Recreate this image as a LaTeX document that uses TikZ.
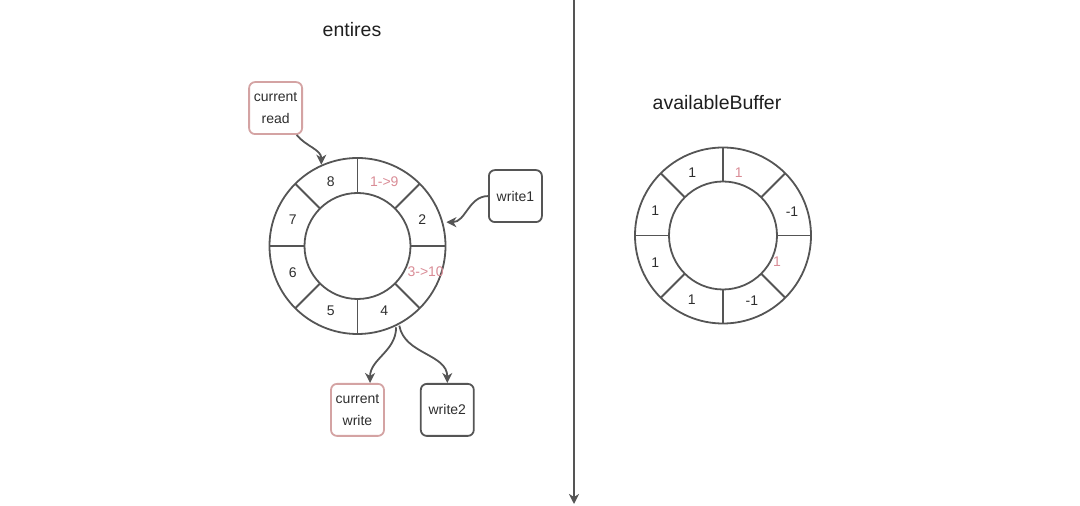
\documentclass[tikz,border=0pt]{standalone}
\usepackage{fontspec}
\setmainfont{Liberation Sans}
\usetikzlibrary{arrows.meta,positioning}
\definecolor{ringgray}{HTML}{555555}
\definecolor{pinkline}{HTML}{D4A3A3}
\definecolor{pinktext}{HTML}{D98C96}
\definecolor{textgray}{HTML}{2E2E2E}

\tikzset{
  box/.style={draw=ringgray, rounded corners=6pt, line width=1.8pt,
    minimum width=53pt, minimum height=52pt, inner sep=0pt, align=center,
    font=\fontsize{14}{22}\selectfont, text=textgray},
  redbox/.style={box, draw=pinkline},
  num/.style={font=\fontsize{14}{16}\selectfont, text=textgray},
  rednum/.style={num, text=pinktext},
  title/.style={font=\fontsize{19.5}{24}\selectfont, text=black!88}
}

\begin{document}
\begin{tikzpicture}[x=1pt, y=1pt, line width=1.8pt, color=ringgray,
    >={Stealth[length=10pt,width=10pt,inset=3pt]}]
  \useasboundingbox (0,0) rectangle (1080,506);
  % entires ring
  \coordinate (E) at (357.5,260);
  \node[title] (T1) at (352,476) {entires};
  \draw (E) circle (88pt) (E) circle (53pt);
  \foreach \a in {0,45,...,315}
    \draw (E) ++(\a:53pt) -- ++(\a:35pt);
  \path (E) ++(112.5:70pt) node[num] (e8) {8};
  \path (E) ++(67.5:70pt) node[rednum] (e1) {1->9};
  \path (E) ++(22.5:70pt) node[num] (e2) {2};
  \path (E) ++(-21:73pt) node[rednum] (e3) {3->10};
  \path (E) ++(-67.5:70pt) node[num] (e4) {4};
  \path (E) ++(-112.5:70pt) node[num] (e5) {5};
  \path (E) ++(-157.5:70pt) node[num] (e6) {6};
  \path (E) ++(157.5:70pt) node[num] (e7) {7};
  % pointers
  \node[redbox, above left=111pt and 54.5pt of E] (R) {current\\read};
  \node[box, above right=23pt and 130.5pt of E] (W1) {write1};
  \node[redbox, below=137pt of E] (CW) {current\\write};
  \node[box, right=35pt of CW] (W2) {write2};
  \path (E) ++(114:89pt) coordinate (in8);
  \path (E) ++(15:92pt) coordinate (in2);
  \path (E) ++(-64.6:90pt) coordinate (out4a);
  \path (E) ++(-62.3:90pt) coordinate (out4b);
  \draw[->] (R.-52) to[out=-50,in=90] (in8);
  \draw[->] (W1.west) to[out=180,in=0] (in2);
  \draw[->] (out4a) to[out=-90,in=90] (CW.65);
  \draw[->] (out4b) to[out=-80,in=90] (W2.north);
  % divider
  \coordinate (top) at (574,506);
  \coordinate (bot) at (574,2);
  \draw[->] (top) -- (bot);
  % availableBuffer ring
  \coordinate (B) at (723,270.5);
  \node[title] (T2) at (717,403) {availableBuffer};
  \draw (B) circle (88pt) (B) circle (54pt);
  \foreach \a in {0,45,...,315}
    \draw (B) ++(\a:54pt) -- ++(\a:34pt);
  \path (B) ++(116:70pt) node[num] (b8) {1};
  \path (B) ++(76:65pt) node[rednum] (b1) {1};
  \path (B) ++(19:73pt) node[num] (b2) {-1};
  \path (B) ++(-26:60pt) node[rednum] (b3) {1};
  \path (B) ++(-66:71pt) node[num] (b4) {-1};
  \path (B) ++(-116:71pt) node[num] (b5) {1};
  \path (B) ++(-158:73pt) node[num] (b6) {1};
  \path (B) ++(160:72pt) node[num] (b7) {1};
\end{tikzpicture}
\end{document}
